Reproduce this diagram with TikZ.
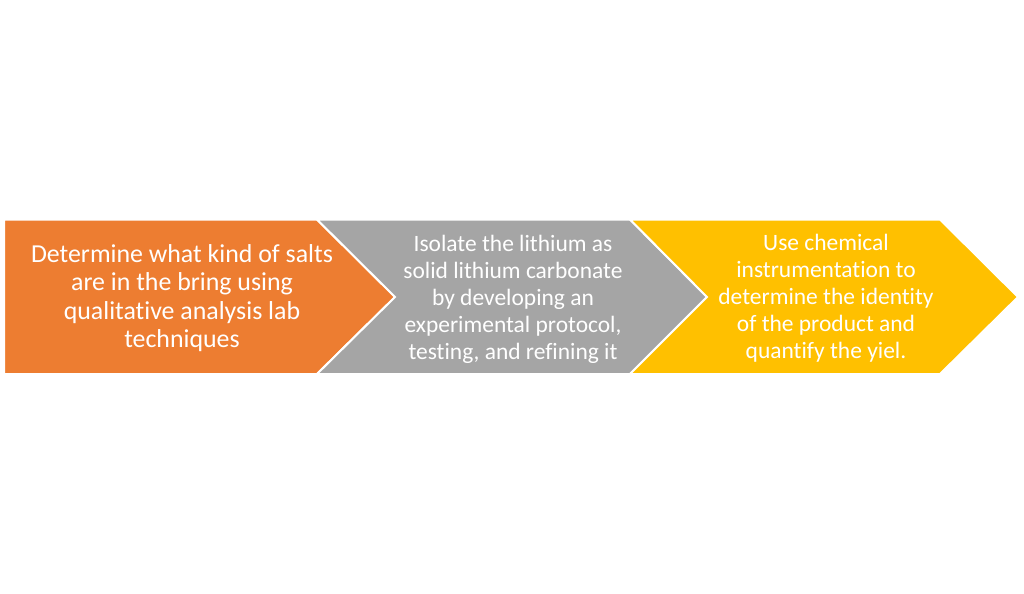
\documentclass[tikz,border=0pt]{standalone}
\usepackage{fontspec}
\setmainfont[Ligatures={NoCommon}]{Carlito}
\definecolor{corange}{HTML}{ED7D31}
\definecolor{cgray}{HTML}{A5A5A5}
\definecolor{cgold}{HTML}{FFC000}
\begin{document}
\begin{tikzpicture}[x=0.75pt,y=-0.75pt,
  chev/.style={draw=white,line width=1.5pt,line join=miter},
  lbl/.style={text=white,align=center,inner sep=0pt,font=\fontsize{17.6}{20.2}\selectfont},
  lblbig/.style={lbl,font=\fontsize{19.4}{21.4}\selectfont}]
\useasboundingbox (0,0) rectangle (1024,593);
\fill[white] (0,0) rectangle (1024,593);
\path[chev,fill=corange] (4,219.5) -- (317,219.5) -- (395,297) -- (317,374) -- (4,374) -- cycle;
\path[chev,fill=cgray] (317,219.5) -- (630,219.5) -- (707,297) -- (630,374) -- (317,374) -- (395,297) -- cycle;
\path[chev,fill=cgold] (630,219.5) -- (940,219.5) -- (1018,297) -- (940,374) -- (630,374) -- (707,297) -- cycle;
\node[lblbig] (t1) at (182,298) {Determine what kind of salts\\are in the bring using\\qualitative analysis lab\\techniques};
\node[lbl] (t2) at (513,299) {Isolate the lithium as\\solid lithium carbonate\\by developing an\\experimental protocol,\\testing, and refining it};
\node[lbl] (t3) at (826,298) {Use chemical\\instrumentation to\\determine the identity\\of the product and\\quantify the yiel.};
\end{tikzpicture}
\end{document}
